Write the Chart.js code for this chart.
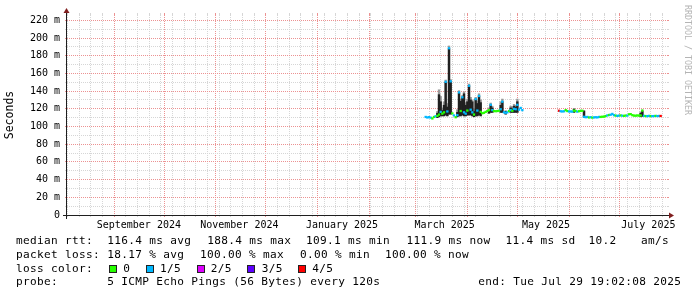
<!DOCTYPE html>
<html><head><meta charset="utf-8">
<script src="https://cdn.jsdelivr.net/npm/chart.js"></script>
<style>
html,body{margin:0;padding:0;background:#fff;}
#wrap{position:relative;width:697px;height:297px;overflow:hidden;background:#fff;}
canvas{position:absolute;left:0;top:0;}
.t{position:absolute;font-family:'DejaVu Sans Mono',monospace;font-size:11.1px;letter-spacing:0.32px;line-height:14px;white-space:pre;color:#000;}
.sq{position:absolute;width:8px;height:8px;box-sizing:border-box;border:1px solid #222;}
#wm{position:absolute;left:682.7px;top:5px;writing-mode:vertical-rl;font-family:'DejaVu Sans Mono',monospace;font-size:8.3px;line-height:10px;color:#b4b4b4;white-space:pre;}
</style></head><body>
<div id="wrap">
<canvas id="c" width="697" height="297"></canvas>
<div id="wm">RRDTOOL / TOBI OETIKER</div>
<div class="t" style="left:16px;top:234px">median rtt:</div>
<div class="t" style="left:107.3px;top:234px">116.4 ms avg</div>
<div class="t" style="left:207.3px;top:234px">188.4 ms max</div>
<div class="t" style="left:306px;top:234px">109.1 ms min</div>
<div class="t" style="left:406.5px;top:234px">111.9 ms now</div>
<div class="t" style="left:505.5px;top:234px">11.4 ms sd</div>
<div class="t" style="left:588.5px;top:234px">10.2</div>
<div class="t" style="left:641px;top:234px">am/s</div>
<div class="t" style="left:16px;top:247.8px">packet loss:</div>
<div class="t" style="left:107.3px;top:247.8px">18.17 % avg</div>
<div class="t" style="left:200px;top:247.8px">100.00 % max</div>
<div class="t" style="left:300px;top:247.8px">0.00 % min</div>
<div class="t" style="left:385px;top:247.8px">100.00 % now</div>
<div class="t" style="left:16px;top:261.6px">loss color:</div>
<div id="lossLegend"></div>
<div class="t" style="left:16px;top:275.4px">probe:</div>
<div class="t" style="left:107.3px;top:275.4px">5 ICMP Echo Pings (56 Bytes) every 120s</div>
<div class="t" style="left:478.3px;top:275.4px">end: Tue Jul 29 19:02:08 2025</div>
</div>
<script>
// ---- time frame (days relative to 2025-01-01 00:00) ----
const END_DAY = 209 + (19*3600 + 2*60 + 8) / 86400;   // Tue Jul 29 19:02:08 2025
const SPAN_DAYS = 360;
const START_DAY = END_DAY - SPAN_DAYS;

// ---- loss legend ----
const lossColors = ['#26ff00', '#00b8ff', '#dd00ff', '#5e00ff', '#ff0000'];
const lossLabels = ['0', '1/5', '2/5', '3/5', '4/5'];
const lossSquareLeft = [108.7, 145.7, 196.7, 247.3, 297.7];
const lossLabelLeft = [123.3, 160, 210.7, 261.7, 312.3];

// ---- x axis labels ----
const labelTexts = ['September 2024', 'November 2024', 'January 2025', 'March 2025', 'May 2025', 'July 2025'];
const labelDays = [-107.1, -46.8, 14.8, 76.4, 137.2, 198.6];

// ---- y axis ticks (ms) ----
const yTickValues = [0,10,20,30,40,50,60,70,80,90,100,110,120,130,140,150,160,170,180,190,200,210,220];

// ---- median rtt series (ms), one value per day ----
const days = [
  65,66,67,68,69,70,71,72,73,74,
  75,76,77,78,79,80,81,82,83,84,
  85,86,87,88,89,90,91,92,93,94,
  95,96,97,98,99,100,101,102,103,104,
  105,106,107,108,109,110,111,112,113,114,
  115,116,117,118,119,120,121,122,123,
  145,146,147,148,149,150,151,152,153,154,
  155,156,157,158,159,160,161,162,163,164,
  165,166,167,168,169,170,171,172,173,174,
  175,176,177,178,179,180,181,182,183,184,
  185,186,187,188,189,190,191,192,193,194,
  195,196,197,198,199,200,201,202,203,204,
  205,206
];
const median = [
  110.8,110.2,110.6,110.0,109.1,110.8,111.6,112.0,113.5,116.5,
  114.5,116.0,150.5,117.0,188.4,151.0,114.8,112.5,110.5,112.8,
  138.5,117.5,133.0,116.0,114.5,118.0,146.0,119.0,116.0,113.5,
  131.0,118.0,134.5,116.5,115.0,115.5,116.5,117.5,118.5,124.5,
  118.5,117.5,117.3,117.5,117.8,119.5,128.0,116.0,115.5,116.0,
  117.5,118.5,117.8,120.0,119.5,124.5,119.0,121.0,118.5,
  117.8,117.2,117.0,117.2,118.5,117.5,117.0,117.0,116.8,118.0,
  117.5,116.8,117.3,117.6,117.8,111.0,110.5,110.8,110.2,110.5,
  110.0,110.3,110.5,110.3,110.8,110.8,111.0,111.2,111.8,112.5,
  113.0,113.3,114.2,112.8,112.3,112.0,112.3,112.5,112.2,112.0,
  112.4,112.3,113.8,114.0,112.8,112.3,112.2,112.5,112.3,112.5,
  118.0,112.0,111.8,111.7,112.0,111.8,111.7,111.8,112.0,111.8,
  111.9,111.9
];
// loss level index (0 = 0/5 ... 4 = 4/5)
const loss = [
  1,1,1,1,0,0,1,0,0,1,
  0,0,1,1,1,1,0,1,0,1,
  1,0,1,1,1,0,1,1,1,0,
  1,1,1,0,0,0,0,0,0,1,
  1,0,0,0,0,1,1,1,1,1,
  0,1,0,1,1,1,1,1,1,
  4,1,1,1,0,0,1,1,1,0,
  0,1,0,0,0,1,1,1,0,1,
  0,1,1,1,1,0,0,0,0,1,
  0,1,1,1,0,1,1,0,1,0,
  0,1,0,0,0,0,0,0,0,0,
  0,1,0,1,1,0,1,1,0,1,
  1,4
];

// ---- smoke (ping spread, ms) ----
const smokeDays = [72,73,74,75,76,77,78,79,80,84,85,86,87,88,89,90,91,92,93,94,95,96,97,98,103,104,105,110,111,113,116,117,118,119,120,154,160,194,195];
const smokeLo  = [110,111,112,112,112,113,112,114,114,111,112,112,113,112,112,113,113,113,112,111,112,112,113,112,115,116,116,116,116,114,116,116,116,116,116,116,110.5,111,111.5];
const smokeIn  = [115,136,128,118,124,150,122,188,150,116,138,128.5,133,137,124,128,146,130,128,117,131,126,134.5,127,119,124.5,121,124,128,117,121,120,123,122,128,119.5,117.5,115,117];
const smokeOut = [117,141.5,134,121,128,152.5,126,191,153,119,140.5,131,135,139,127,131,148,133,130,120,133,129,137,130,121,126.5,123,128,131,118,123,122.5,125,124,131,120.5,118,116.5,118.5];

// ---- legend squares ----
(function(){
  const host = document.getElementById('lossLegend');
  lossLabels.forEach((lab, i) => {
    const sq = document.createElement('div');
    sq.className = 'sq';
    sq.style.left = lossSquareLeft[i] + 'px';
    sq.style.top = '264.5px';
    sq.style.background = lossColors[i];
    host.appendChild(sq);
    const t = document.createElement('div');
    t.className = 't';
    t.style.left = lossLabelLeft[i] + 'px';
    t.style.top = '261.6px';
    t.textContent = lab;
    host.appendChild(t);
  });
})();

// ---- grid tick positions ----
const DAY0 = Date.UTC(2025, 0, 1);
function dayOf(y, m, d) { return (Date.UTC(y, m, d) - DAY0) / 86400000; }
const monthStarts = [];
for (let k = 0; k < 12; k++) { const v = dayOf(2024, 8 + k, 1); if (v <= END_DAY) monthStarts.push(v); }
const sundays = [];
for (let s = dayOf(2024, 7, 4); s <= END_DAY; s += 7) sundays.push(s);
const minorDays = sundays.filter(s => !monthStarts.includes(s));
const xTickValues = [...minorDays, ...monthStarts, ...labelDays].sort((a, b) => a - b);

const MAJOR = 'rgb(236,146,146)';
const MINOR = 'rgb(214,214,214)';
const NONE = 'rgba(0,0,0,0)';
function kindOf(v) {
  if (labelDays.includes(v)) return 'label';
  if (monthStarts.includes(v)) return 'major';
  return 'minor';
}
function xGridColor(c) { const k = kindOf(c.tick.value); return k === 'major' ? MAJOR : (k === 'minor' ? MINOR : NONE); }
function yGridColor(c) { const v = c.tick.value; if (v === 0) return NONE; return v % 20 === 0 ? MAJOR : MINOR; }

// ---- datasets ----
const BAND = 0.9;
const medianData = days.map((d, i) => ({ x: d, y: [median[i] - BAND, median[i] + BAND] }));
const medianColors = loss.map(l => lossColors[l]);
const smokeInner = smokeDays.map((d, i) => ({ x: d, y: [smokeLo[i], smokeIn[i]] }));
const smokeOuter = smokeDays.map((d, i) => ({ x: d, y: [smokeLo[i], smokeOut[i]] }));

const rrdFrame = {
  id: 'rrdFrame',
  afterDraw(chart) {
    const { ctx, chartArea: a, scales: { x, y } } = chart;
    ctx.save();
    ctx.lineWidth = 1;
    xTickValues.forEach(v => {
      const k = kindOf(v); if (k === 'label') return;
      const px = Math.round(x.getPixelForValue(v) - 0.5) + 0.5;
      ctx.strokeStyle = k === 'major' ? MAJOR : MINOR;
      ctx.beginPath(); ctx.moveTo(px, a.top - 2); ctx.lineTo(px, a.top); ctx.stroke();
    });
    yTickValues.forEach(v => {
      if (v === 0) return;
      const py = Math.round(y.getPixelForValue(v) - 0.5) + 0.5;
      ctx.strokeStyle = v % 20 === 0 ? MAJOR : MINOR;
      ctx.beginPath(); ctx.moveTo(a.right, py); ctx.lineTo(a.right + 2, py); ctx.stroke();
    });
    ctx.strokeStyle = '#1f1f1f';
    const ax = a.left - 0.5, ay = a.bottom + 0.5;
    ctx.beginPath(); ctx.moveTo(a.left - 4, ay); ctx.lineTo(a.right + 4, ay); ctx.stroke();
    ctx.beginPath(); ctx.moveTo(ax, a.bottom + 4); ctx.lineTo(ax, a.top - 4); ctx.stroke();
    ctx.fillStyle = 'rgb(128,31,31)';
    ctx.beginPath(); ctx.moveTo(a.right + 2, ay - 3); ctx.lineTo(a.right + 2, ay + 3); ctx.lineTo(a.right + 7, ay); ctx.closePath(); ctx.fill();
    ctx.beginPath(); ctx.moveTo(ax - 3, a.top - 2); ctx.lineTo(ax + 3, a.top - 2); ctx.lineTo(ax, a.top - 7); ctx.closePath(); ctx.fill();
    ctx.restore();
  }
};

Chart.defaults.font.family = "'DejaVu Sans Mono', monospace";
Chart.defaults.color = '#000';

new Chart(document.getElementById('c'), {
  type: 'bar',
  data: {
    datasets: [
      { label: 'median rtt', data: medianData, backgroundColor: medianColors, borderWidth: 0, barThickness: 1.7, grouped: false, order: 0 },
      { label: 'smoke', data: smokeInner, backgroundColor: '#202020', borderWidth: 0, barThickness: 1.7, grouped: false, order: 1 },
      { label: 'smoke outer', data: smokeOuter, backgroundColor: '#9a9a9a', borderWidth: 0, barThickness: 1.7, grouped: false, order: 2 }
    ]
  },
  options: {
    responsive: false,
    animation: false,
    devicePixelRatio: 1,
    layout: { padding: { left: 0, top: 15, right: 30, bottom: 0 } },
    plugins: { legend: { display: false }, tooltip: { enabled: false } },
    scales: {
      x: {
        type: 'linear', min: START_DAY, max: END_DAY, offset: false,
        afterBuildTicks: s => { s.ticks = xTickValues.map(v => ({ value: v })); },
        afterFit: s => { s.height = 82; },
        grid: { color: xGridColor, tickColor: xGridColor, lineWidth: 1, tickLength: 2, drawTicks: true, offset: false },
        border: { display: false, dash: [1, 1] },
        ticks: {
          autoSkip: false, maxRotation: 0, minRotation: 0, padding: 2,
          font: { size: 10 }, color: '#000',
          callback: v => { const i = labelDays.indexOf(v); return i >= 0 ? labelTexts[i] : ''; }
        }
      },
      y: {
        type: 'linear', min: 0, max: 226,
        afterBuildTicks: s => { s.ticks = yTickValues.map(v => ({ value: v })); },
        afterFit: s => { s.width = 67; },
        grid: { color: yGridColor, tickColor: yGridColor, lineWidth: 1, tickLength: 2, drawTicks: true },
        border: { display: false, dash: [1, 1] },
        ticks: {
          autoSkip: false, padding: 5, font: { size: 10 }, color: '#000',
          callback: v => v === 0 ? '0' : (v % 20 === 0 ? v + ' m' : '')
        },
        title: { display: true, text: 'Seconds', font: { size: 11.5 }, color: '#000', padding: { top: 3, bottom: 0 } }
      }
    }
  },
  plugins: [rrdFrame]
});
</script>
</body></html>
